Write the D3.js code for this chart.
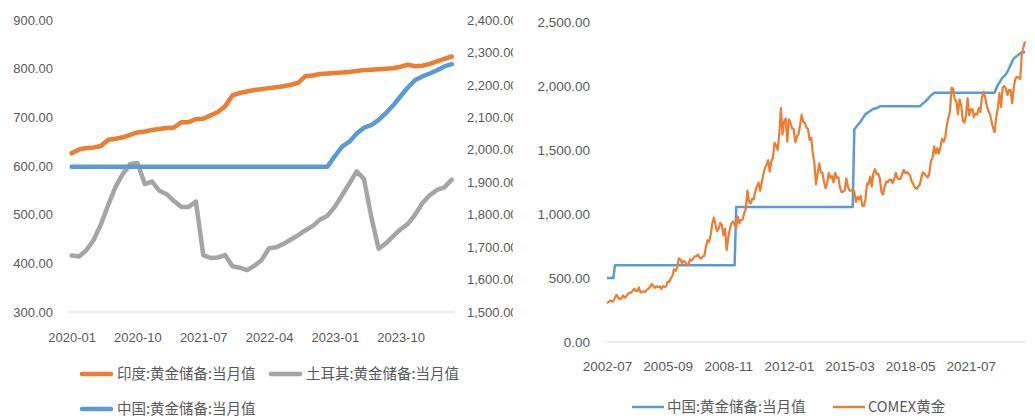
<!DOCTYPE html>
<html><head><meta charset="utf-8">
<script src="https://cdn.jsdelivr.net/npm/d3@7"></script>
<style>
html,body{margin:0;padding:0;background:#fff;}
svg{display:block;}
.ax text{fill:#595959;font-family:"Liberation Sans",Arial,sans-serif;}
.lg{fill:#595959;font-family:"Noto Sans CJK SC",sans-serif;font-size:14.5px;}
</style></head><body>
<svg id="chart" width="1035" height="419"></svg>
<script>
// ---------- Left chart data (monthly, 2020-01 .. 2024-05) ----------
const leftStart = "2020-01", leftEnd = "2024-05";
const leftTickLabels = ["2020-01","2020-10","2021-07","2022-04","2023-01","2023-10"];
const leftAxisTicks = [300,400,500,600,700,800,900];
const rightAxisTicks = [1500,1600,1700,1800,1900,2000,2100,2200,2300,2400];
const indiaReserves = [626,634,637,638,641,654,656,659,664,669,
  671,674,676,678,679,690,690,696,697,704,
  711,723,745,750,753,756,758,760,762,764,
  767,771,785,786,789,790,791,792,793,795,
  797,798,799,800,801,804,808,805,806,810,
  815,820,825];
const turkeyReserves = [416,414,427,448,480,520,557,584,604,606,
  563,568,549,542,528,516,516,527,417,411,
  412,417,394,391,386,395,407,431,433,440,
  449,458,468,477,490,498,516,540,564,589,
  573,495,430,441,456,470,481,500,524,540,
  551,556,572];
const chinaReservesShort = [1948,1948,1948,1948,1948,1948,1948,1948,1948,1948,
  1948,1948,1948,1948,1948,1948,1948,1948,1948,1948,
  1948,1948,1948,1948,1948,1948,1948,1948,1948,1948,
  1948,1948,1948,1948,1948,1948,1980,2010,2025,2050,
  2068,2076,2092,2113,2137,2165,2192,2215,2226,2235,
  2245,2257,2264];
const leftSeriesNames = ["印度:黄金储备:当月值","土耳其:黄金储备:当月值","中国:黄金储备:当月值"];

// ---------- Right chart data (monthly, 2002-07 .. 2024-05) ----------
const rightStart = "2002-07", rightEnd = "2024-05";
const rightTickLabels = ["2002-07","2005-09","2008-11","2012-01","2015-03","2018-05","2021-07"];
const rightChartTicks = [0,500,1000,1500,2000,2500];
const chinaReservesLong = [
  500,500,500,500,500,600,
  600,600,600,600,600,600,600,600,600,600,600,600,
  600,600,600,600,600,600,600,600,600,600,600,600,
  600,600,600,600,600,600,600,600,600,600,600,600,
  600,600,600,600,600,600,600,600,600,600,600,600,
  600,600,600,600,600,600,600,600,600,600,600,600,
  600,600,600,600,600,600,600,600,600,600,600,600,
  600,600,600,1054,1054,1054,1054,1054,1054,1054,1054,1054,
  1054,1054,1054,1054,1054,1054,1054,1054,1054,1054,1054,1054,
  1054,1054,1054,1054,1054,1054,1054,1054,1054,1054,1054,1054,
  1054,1054,1054,1054,1054,1054,1054,1054,1054,1054,1054,1054,
  1054,1054,1054,1054,1054,1054,1054,1054,1054,1054,1054,1054,
  1054,1054,1054,1054,1054,1054,1054,1054,1054,1054,1054,1054,
  1054,1054,1054,1054,1054,1658,1677,1693,1708,1722,1743,1762,
  1780,1788,1797,1805,1814,1823,1823,1828,1833,1842,1842,1842,
  1842,1842,1842,1842,1842,1842,1842,1842,1842,1842,1842,1842,
  1842,1842,1842,1842,1842,1842,1842,1842,1842,1842,1842,1852,
  1864,1874,1885,1896,1912,1926,1936,1945,1948,1948,1948,1948,
  1948,1948,1948,1948,1948,1948,1948,1948,1948,1948,1948,1948,
  1948,1948,1948,1948,1948,1948,1948,1948,1948,1948,1948,1948,
  1948,1948,1948,1948,1948,1948,1948,1948,1948,1948,1980,2010,
  2025,2050,2068,2076,2092,2113,2137,2165,2192,2215,2226,2235,
  2245,2257,2262,2264,2264];
const comexGold = [
  304,312,324,317,318,347,
  368,348,335,339,364,346,355,375,384,386,398,416,
  400,396,427,387,394,395,391,409,416,429,453,438,
  423,435,428,435,414,437,430,434,470,470,496,518,
  569,556,583,654,645,616,633,626,599,606,646,636,
  652,669,669,684,660,651,668,673,743,795,783,838,
  924,972,917,865,886,930,914,834,884,718,816,884,
  928,942,916,891,979,927,954,955,1008,1040,1182,1097,
  1081,1118,1115,1180,1214,1245,1181,1248,1309,1359,1386,1421,
  1332,1411,1439,1556,1536,1500,1628,1829,1620,1725,1746,1566,
  1740,1711,1669,1664,1561,1604,1622,1692,1776,1719,1713,1675,
  1664,1578,1595,1476,1393,1234,1313,1396,1327,1323,1250,1202,
  1240,1322,1284,1296,1246,1322,1282,1287,1210,1171,1175,1184,
  1279,1213,1183,1183,1190,1172,1095,1133,1115,1142,1065,1061,
  1116,1238,1234,1293,1215,1321,1350,1311,1316,1276,1173,1152,
  1211,1253,1249,1268,1268,1242,1269,1322,1280,1271,1275,1309,
  1345,1318,1327,1316,1299,1254,1233,1206,1196,1215,1226,1282,
  1325,1316,1298,1285,1311,1413,1437,1529,1472,1514,1472,1523,
  1588,1566,1597,1695,1751,1800,1986,1978,1895,1879,1780,1895,
  1850,1729,1715,1768,1905,1771,1817,1818,1757,1784,1776,1829,
  1796,1909,1954,1911,1849,1807,1782,1726,1672,1640,1759,1826,
  1945,1836,1986,1999,1982,1929,1970,1966,1866,1996,2057,2072,
  2067,2054,2254,2302,2348];
const rightSeriesNames = ["中国:黄金储备:当月值","COMEX黄金"];

const colors = {orange:"#ED7D31", gray:"#A5A5A5", blue:"#5B9BD5", axis:"#D9D9D9"};

const parse = d3.timeParse("%Y-%m"), fmt = d3.timeFormat("%Y-%m");
const monthsBetween = (a,b) => d3.timeMonth.range(parse(a), d3.timeMonth.offset(parse(b),1)).map(fmt);
const leftMonths = monthsBetween(leftStart, leftEnd);
const rightMonths = monthsBetween(rightStart, rightEnd);

const svg = d3.select("#chart");

// ================= LEFT CHART =================
const L = svg.append("g");
svg.append("defs").append("clipPath").attr("id","clipL")
  .append("rect").attr("x",0).attr("y",0).attr("width",513).attr("height",419);
L.attr("clip-path","url(#clipL)");

const xL = d3.scalePoint().domain(leftMonths).range([71.7, 451.7]);
const yL = d3.scaleLinear().domain([300,900]).range([312,20]);
const yL2 = d3.scaleLinear().domain([1500,2400]).range([312,20]);

L.append("line").attr("x1",68).attr("x2",455).attr("y1",312).attr("y2",312)
  .attr("stroke",colors.axis).attr("stroke-width",1.2);

const axL = L.append("g").attr("class","ax").attr("transform","translate(53,0)")
  .call(d3.axisLeft(yL).tickValues(leftAxisTicks).tickFormat(d3.format(".2f")).tickSize(0).tickPadding(0));
const axR = L.append("g").attr("class","ax").attr("transform","translate(467,0)")
  .call(d3.axisRight(yL2).tickValues(rightAxisTicks).tickFormat(d3.format(",.2f")).tickSize(0).tickPadding(0));
const axB = L.append("g").attr("class","ax").attr("transform","translate(0,312)")
  .call(d3.axisBottom(xL).tickValues(leftTickLabels).tickSize(0).tickPadding(21));
[axL,axR,axB].forEach(a=>{a.select(".domain").remove();a.selectAll("text").style("font-size","13px");});

const lineL = d3.line().x((d,i)=>xL(leftMonths[i])).y(d=>yL(d)).curve(d3.curveLinear);
const lineL2 = d3.line().x((d,i)=>xL(leftMonths[i])).y(d=>yL2(d));

L.append("path").datum(indiaReserves).attr("d",lineL).attr("fill","none")
  .attr("stroke",colors.orange).attr("stroke-width",4.5).attr("stroke-linejoin","round").attr("stroke-linecap","round");
L.append("path").datum(turkeyReserves).attr("d",lineL).attr("fill","none")
  .attr("stroke",colors.gray).attr("stroke-width",4.5).attr("stroke-linejoin","round").attr("stroke-linecap","round");
L.append("path").datum(chinaReservesShort).attr("d",lineL2).attr("fill","none")
  .attr("stroke",colors.blue).attr("stroke-width",4.5).attr("stroke-linejoin","round").attr("stroke-linecap","round");

const legL = [
  {name:leftSeriesNames[0], c:colors.orange, x:82, y:374},
  {name:leftSeriesNames[1], c:colors.gray, x:271, y:374},
  {name:leftSeriesNames[2], c:colors.blue, x:82, y:409}
];
legL.forEach(d=>{
  L.append("line").attr("x1",d.x).attr("x2",d.x+29).attr("y1",d.y).attr("y2",d.y)
    .attr("stroke",d.c).attr("stroke-width",4.5).attr("stroke-linecap","round");
  L.append("text").attr("class","lg").attr("x",d.x+35).attr("y",d.y).attr("dy","0.36em").text(d.name);
});

// ================= RIGHT CHART =================
const R = svg.append("g");
const xR = d3.scalePoint().domain(rightMonths).range([607, 1025]);
const yR = d3.scaleLinear().domain([0,2500]).range([342,22]);

R.append("line").attr("x1",607).attr("x2",1026).attr("y1",342).attr("y2",342)
  .attr("stroke",colors.axis).attr("stroke-width",1.2);
const raxL = R.append("g").attr("class","ax").attr("transform","translate(590,0)")
  .call(d3.axisLeft(yR).tickValues(rightChartTicks).tickFormat(d3.format(",.2f")).tickSize(0).tickPadding(0));
const raxB = R.append("g").attr("class","ax").attr("transform","translate(0,342)")
  .call(d3.axisBottom(xR).tickValues(rightTickLabels).tickSize(0).tickPadding(19));
[raxL,raxB].forEach(a=>{a.select(".domain").remove();a.selectAll("text").style("font-size","13.5px");});

const lineR = d3.line().x((d,i)=>xR(rightMonths[i])).y(d=>yR(d));
R.append("path").datum(chinaReservesLong).attr("d",lineR).attr("fill","none")
  .attr("stroke",colors.blue).attr("stroke-width",2.5).attr("stroke-linejoin","round");
R.append("path").datum(comexGold).attr("d",lineR).attr("fill","none")
  .attr("stroke",colors.orange).attr("stroke-width",2.2).attr("stroke-linejoin","round");

const legR = [
  {name:rightSeriesNames[0], c:colors.blue, x:632, y:407},
  {name:rightSeriesNames[1], c:colors.orange, x:833, y:407}
];
legR.forEach(d=>{
  R.append("line").attr("x1",d.x).attr("x2",d.x+32).attr("y1",d.y).attr("y2",d.y)
    .attr("stroke",d.c).attr("stroke-width",2.5);
  R.append("text").attr("class","lg").attr("x",d.x+35).attr("y",d.y).attr("dy","0.36em").text(d.name);
});
</script>
</body></html>
